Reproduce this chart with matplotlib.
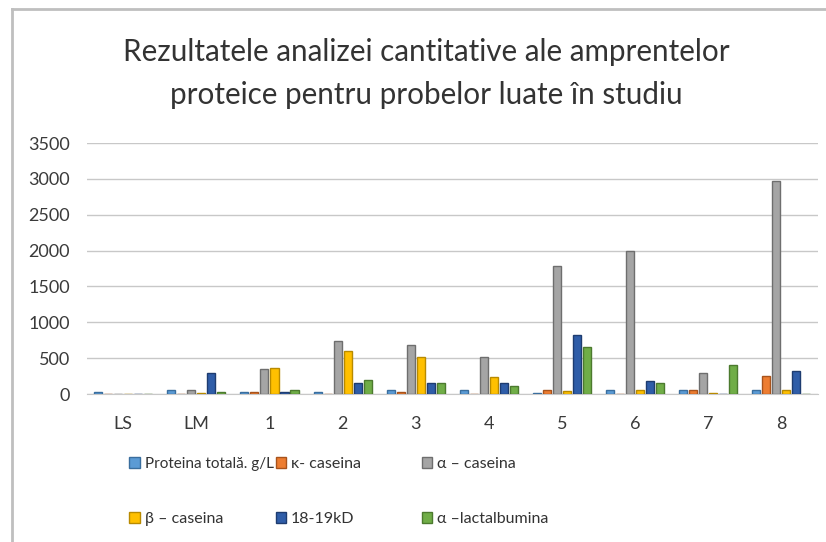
import matplotlib
matplotlib.use("Agg")
import matplotlib.pyplot as plt
import numpy as np
from matplotlib.patches import Patch
from matplotlib.lines import Line2D

plt.rcParams['font.family'] = ['Lato', 'DejaVu Sans']

categories = ["LS", "LM", "1", "2", "3", "4", "5", "6", "7", "8"]
series_names = ["Proteina totală. g/L", "κ- caseina", "α – caseina",
                "β – caseina", "18-19kD", "α –lactalbumina"]
proteina = [30, 60, 30, 30, 50, 50, 20, 50, 60, 50]
kappa = [0, 0, 30, 0, 30, 0, 60, 0, 50, 250]
alpha = [0, 60, 350, 740, 680, 520, 1780, 2000, 290, 2970]
beta = [0, 20, 370, 600, 510, 240, 40, 60, 20, 50]
kd1819 = [0, 290, 30, 150, 150, 150, 820, 180, 0, 320]
lact = [0, 30, 60, 190, 150, 110, 650, 160, 410, 0]
yticks = [0, 500, 1000, 1500, 2000, 2500, 3000, 3500]

series = [proteina, kappa, alpha, beta, kd1819, lact]
colors = ["#5B9BD5", "#ED7D31", "#A5A5A5", "#FFC000", "#2F5DA8", "#70AD47"]
edges = ["#3A6E9E", "#A8531C", "#6E6E6E", "#B88A00", "#1E3C70", "#4C7A2E"]

fig = plt.figure(figsize=(8.26, 5.42), dpi=100)
ax = fig.add_axes([0.105, 0.273, 0.885, 0.463])

x = np.arange(len(categories))
w = 0.137
for i, (vals, c, ec) in enumerate(zip(series, colors, edges)):
    ax.bar(x + (i - 2.5) * w, vals, width=0.11, color=c, edgecolor=ec,
           linewidth=1.0, zorder=3)

ax.set_xlim(-0.5, len(categories) - 0.5)
ax.set_ylim(0, 3500)
ax.set_yticks(yticks)
ax.set_yticklabels([str(t) for t in yticks], fontsize=13, color="#3a3a3a")
ax.set_xticks(x)
ax.set_xticklabels(categories, fontsize=13, color="#3a3a3a")
ax.tick_params(axis='both', length=0)
ax.tick_params(axis='x', pad=16)
ax.tick_params(axis='y', pad=12)
ax.grid(axis='y', color="#C8C8C8", linewidth=1.0, zorder=0)
for s in ["top", "right", "left"]:
    ax.spines[s].set_visible(False)
ax.spines["bottom"].set_color("#C8C8C8")

fig.text(0.516, 0.904, "Rezultatele analizei cantitative ale amprentelor",
         ha="center", va="center", fontsize=21.3, color="#333333")
fig.text(0.516, 0.825, "proteice pentru probelor luate în studiu",
         ha="center", va="center", fontsize=21.3, color="#333333")

order = [[0, 3], [1, 4], [2, 5]]
for cx, idxs in zip([0.147, 0.324, 0.501], order):
    handles = [Patch(facecolor=colors[k], edgecolor=edges[k]) for k in idxs]
    labels = [series_names[k] for k in idxs]
    leg = fig.legend(handles, labels, loc="upper left", bbox_to_anchor=(cx, 0.171),
                     frameon=False, fontsize=11.5, handlelength=0.65, handleheight=0.65,
                     handletextpad=0.3, labelspacing=2.55, borderpad=0)
    for t in leg.get_texts():
        t.set_color("#333333")
        if t.get_text().startswith("Proteina"):
            t.set_fontsize(11)

fig.add_artist(Line2D([0.014, 0.014], [0.0, 0.983], transform=fig.transFigure,
                      color="#BFBFBF", linewidth=2))
fig.add_artist(Line2D([0.014, 1.0], [0.983, 0.983], transform=fig.transFigure,
                      color="#BFBFBF", linewidth=2))

fig.savefig("out.png", dpi=100)
